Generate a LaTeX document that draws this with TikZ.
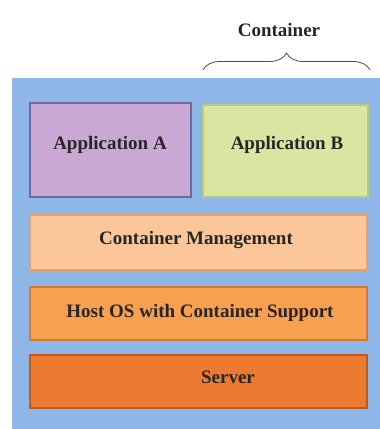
\documentclass[tikz,border=0pt]{standalone}
\usepackage{fontspec}
\setmainfont{Liberation Serif}
\usetikzlibrary{decorations.pathreplacing}

\definecolor{stackblue}{HTML}{8EB6E6}
\definecolor{appA}{HTML}{CAA8D4}
\definecolor{appAline}{HTML}{6C6A9E}
\definecolor{appB}{HTML}{D9E6A2}
\definecolor{appBline}{HTML}{B3CC7E}
\definecolor{mgmt}{HTML}{FBC79A}
\definecolor{mgmtline}{HTML}{E6A06A}
\definecolor{hostos}{HTML}{F8A050}
\definecolor{hostosline}{HTML}{D27A34}
\definecolor{server}{HTML}{EC7A30}
\definecolor{serverline}{HTML}{C25A1A}

\tikzset{
  label text/.style={font=\fontsize{19}{22}\selectfont\bfseries, text=black!85},
  layer/.style={draw, line width=1.2pt, inner sep=0pt}
}

\begin{document}
\begin{tikzpicture}[x=1pt, y=-1pt]
  \useasboundingbox (0,0) rectangle (380,429);
  \fill[white] (0,0) rectangle (380,429);

  % outer stack background
  \fill[stackblue] (12,78) rectangle (380,429);

  % application boxes
  \draw[layer, fill=appA, draw=appAline] (30,103) rectangle (191,197);
  \draw[layer, fill=appB, draw=appBline] (203,105) rectangle (368,197);
  \node[label text] (a) at (110,145) {Application A};
  \node[label text] (b) at (287,145) {Application B};

  % lower layers
  \draw[layer, fill=mgmt, draw=mgmtline] (30,215) rectangle (367,270);
  \node[label text] (cm) at (196,240) {Container Management};

  \draw[layer, fill=hostos, draw=hostosline] (30,287) rectangle (367,340);
  \node[label text] (os) at (200,313) {Host OS with Container Support};

  \draw[layer, fill=server, draw=serverline] (30,355) rectangle (367,408);
  \node[label text] (srv) at (228,377) {Server};

  % container brace
  \coordinate (bl) at (203,70);
  \coordinate (br) at (370,70);
  \draw[black!70, line width=0.8pt, decorate, decoration={brace, amplitude=17pt}] (bl) -- (br);
  \node[label text] (ct) at (279,30) {Container};
\end{tikzpicture}
\end{document}
